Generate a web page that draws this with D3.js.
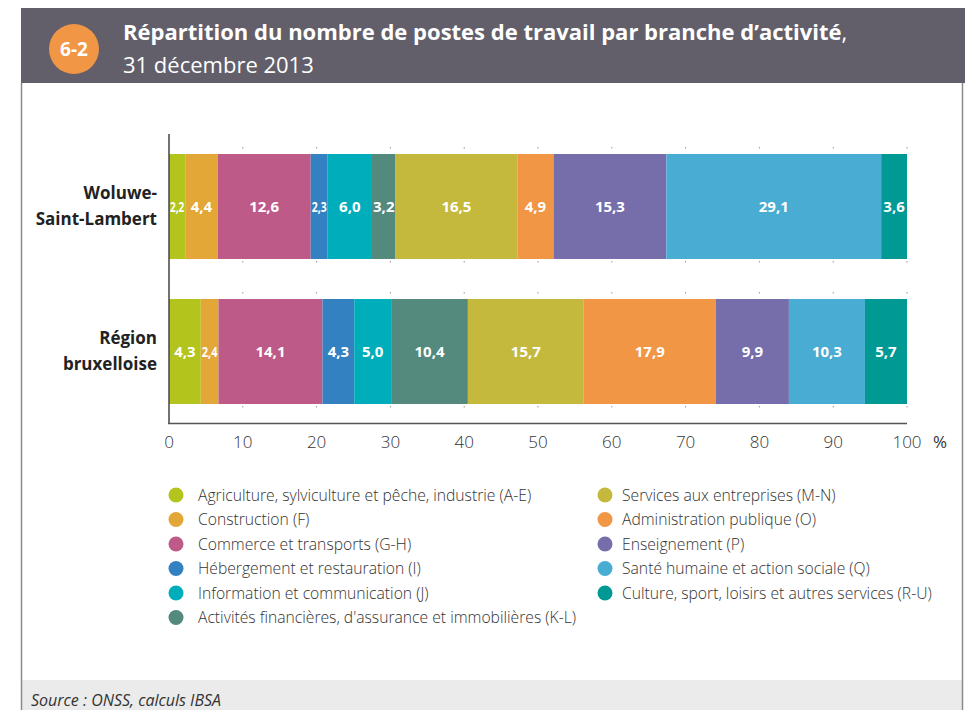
<!DOCTYPE html>
<html>
<head>
<meta charset="utf-8">
<script src="https://cdn.jsdelivr.net/npm/d3@7"></script>
<style>
  body { margin: 0; background: #ffffff; }
  svg { display: block; font-family: "Open Sans", sans-serif; }
</style>
</head>
<body>
<div id="chart"></div>
<script>
// Data
const categories = [
  "Agriculture, sylviculture et pêche, industrie (A-E)",
  "Construction (F)",
  "Commerce et transports (G-H)",
  "Hébergement et restauration (I)",
  "Information et communication (J)",
  "Activités financières, d'assurance et immobilières (K-L)",
  "Services aux entreprises (M-N)",
  "Administration publique (O)",
  "Enseignement (P)",
  "Santé humaine et action sociale (Q)",
  "Culture, sport, loisirs et autres services (R-U)"
];
const colors = ["#b3c41d", "#e2a737", "#be5a87", "#3381c0", "#00aebb", "#548a7d",
                "#c4b93c", "#f19645", "#756eab", "#48acd3", "#009994"];
const regions = [["Woluwe-", "Saint-Lambert"], ["Région", "bruxelloise"]];
const woluwe = [2.2, 4.4, 12.6, 2.3, 6.0, 3.2, 16.5, 4.9, 15.3, 29.1, 3.6];
const bruxelles = [4.3, 2.4, 14.1, 4.3, 5.0, 10.4, 15.7, 17.9, 9.9, 10.3, 5.7];
const ticks = [0, 10, 20, 30, 40, 50, 60, 70, 80, 90, 100];

const W = 965, H = 710;
const svg = d3.select("#chart").append("svg").attr("width", W).attr("height", H);

// Frame, header, source band
svg.append("rect").attr("x", 21).attr("y", 8).attr("width", W - 21).attr("height", 75).attr("fill", "#625f6b");
svg.append("rect").attr("x", 22).attr("y", 680).attr("width", 940).attr("height", 30).attr("fill", "#ebebeb");
svg.append("line").attr("x1", 21.5).attr("x2", 21.5).attr("y1", 83).attr("y2", H).attr("stroke", "#8a8a8a").attr("stroke-width", 1.5);
svg.append("line").attr("x1", 962.5).attr("x2", 962.5).attr("y1", 83).attr("y2", H).attr("stroke", "#8a8a8a").attr("stroke-width", 1.5);

svg.append("circle").attr("cx", 74).attr("cy", 49).attr("r", 25).attr("fill", "#f19645");
svg.append("text").text("6-2").attr("x", 74).attr("y", 56).attr("text-anchor", "middle")
  .attr("fill", "#fff").attr("font-weight", "bold").attr("font-size", 19);

const t1 = svg.append("text").attr("x", 123).attr("y", 40).attr("fill", "#fff").attr("font-size", 22);
t1.append("tspan").attr("font-weight", "bold").text("Répartition du nombre de postes de travail par branche d’activité");
t1.append("tspan").text(",");
svg.append("text").text("31 décembre 2013").attr("x", 123).attr("y", 73)
  .attr("fill", "#fff").attr("font-size", 22);

svg.append("text").text("Source : ONSS, calculs IBSA").attr("x", 31).attr("y", 706)
  .attr("fill", "#333").attr("font-size", 16).attr("font-style", "italic");

// Scales
const x = d3.scaleLinear().domain([0, 100]).range([169, 907]);
const y = d3.scaleBand().domain([0, 1]).range([134, 424]).paddingInner(0.276).paddingOuter(0.138);

// faint grid marks
const g = svg.append("g");
[0, 1].forEach(i => {
  ticks.slice(1).forEach(t => {
    [y(i) - 7, y(i) + y.bandwidth() + 2].forEach(yy => {
      g.append("rect").attr("x", x(t) - 0.5).attr("y", yy).attr("width", 1).attr("height", 1.5).attr("fill", "#999");
    });
  });
});

// Bars
[woluwe, bruxelles].forEach((vals, i) => {
  let acc = 0;
  const segs = vals.map((v, k) => { const s = { v, k, x0: acc, x1: acc + v }; acc += v; return s; });
  const row = svg.append("g");
  row.selectAll("rect").data(segs).join("rect")
    .attr("x", d => x(d.x0))
    .attr("y", y(i))
    .attr("width", d => Math.min(x(d.x1), x(100)) - x(d.x0))
    .attr("height", y.bandwidth())
    .attr("fill", d => colors[d.k]);
  row.selectAll("text").data(segs).join("text")
    .attr("x", d => (x(d.x0) + Math.min(x(d.x1), x(100))) / 2)
    .attr("y", y(i) + y.bandwidth() / 2 + 5)
    .attr("text-anchor", "middle")
    .attr("fill", "#fff").attr("font-weight", "bold").attr("font-size", 15)
    .text(d => d3.format(".1f")(d.v).replace(".", ","))
    .each(function (d) {
      const w = Math.min(x(d.x1), x(100)) - x(d.x0) - 2;
      if (this.getComputedTextLength() > w) {
        d3.select(this).attr("textLength", w).attr("lengthAdjust", "spacingAndGlyphs");
      }
    });

  const lab = svg.append("text").attr("text-anchor", "end").attr("font-weight", "bold")
    .attr("font-size", 17).attr("fill", "#222");
  regions[i].forEach((s, j) => {
    lab.append("tspan").attr("x", 157).attr("y", y(i) + y.bandwidth() / 2 - 8 + j * 26).text(s);
  });
});

// Axes
svg.append("line").attr("x1", 169).attr("x2", 169).attr("y1", 134).attr("y2", 424)
  .attr("stroke", "#444").attr("stroke-width", 1.5);
svg.append("line").attr("x1", 168).attr("x2", 907).attr("y1", 423.5).attr("y2", 423.5)
  .attr("stroke", "#555").attr("stroke-width", 1.5);
svg.append("g").selectAll("text").data(ticks).join("text")
  .attr("x", d => x(d)).attr("y", 448).attr("text-anchor", "middle")
  .attr("font-size", 17).attr("fill", "#333").attr("font-weight", 300)
  .text(d => d);
svg.append("text").text("%").attr("x", 940).attr("y", 448).attr("text-anchor", "middle")
  .attr("font-size", 17).attr("fill", "#333");

// Legend
const legend = svg.append("g");
categories.forEach((c, k) => {
  const col = k < 6 ? 0 : 1;
  const r = k < 6 ? k : k - 6;
  const lx = col === 0 ? 176 : 605;
  const tx = col === 0 ? 198 : 622;
  const ly = 495 + r * 24.5;
  legend.append("circle").attr("cx", lx).attr("cy", ly).attr("r", 7.5).attr("fill", colors[k]);
  legend.append("text").text(c).attr("x", tx).attr("y", ly + 5.5)
    .attr("font-size", 15.7).attr("fill", "#333").attr("font-weight", 300);
});
</script>
</body>
</html>
